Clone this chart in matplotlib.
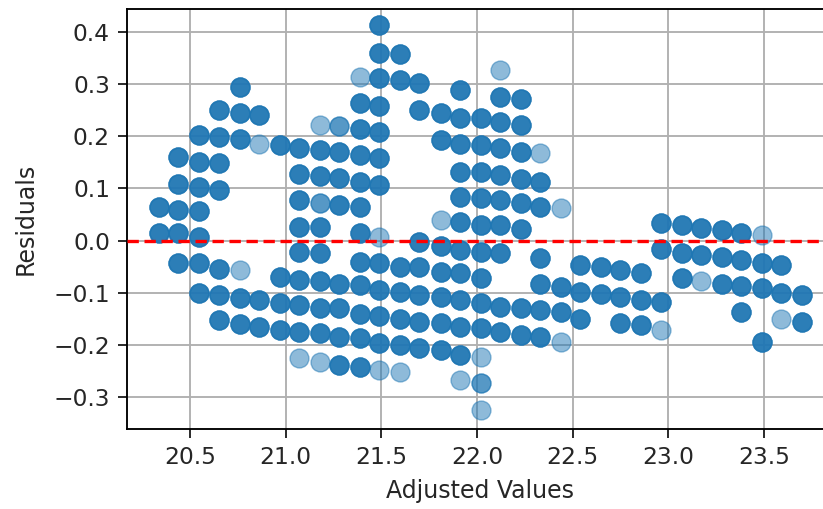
import numpy as np
import matplotlib
matplotlib.use("Agg")
import matplotlib.pyplot as plt

# Column positions (adjusted / fitted values)
adjusted = [20.34, 20.44, 20.55, 20.65, 20.76, 20.86, 20.97, 21.07, 21.18, 21.28,
            21.39, 21.49, 21.60, 21.70, 21.81, 21.91, 22.02, 22.12, 22.23, 22.33,
            22.44, 22.54, 22.65, 22.75, 22.86, 22.96, 23.07, 23.17, 23.28, 23.38,
            23.49, 23.59, 23.70]

# Residuals of densely overlapping points, one list per column
resid_dense = [
    [0.065, 0.014],
    [0.160, 0.108, 0.059, 0.014, -0.042],
    [0.202, 0.151, 0.103, 0.056, 0.007, -0.043, -0.100],
    [0.251, 0.199, 0.148, 0.097, -0.055, -0.104, -0.152],
    [0.295, 0.244, 0.194, -0.110, -0.159],
    [0.241, -0.113, -0.165],
    [0.183, -0.069, -0.120, -0.170],
    [0.177, 0.128, 0.078, 0.027, -0.021, -0.075, -0.123, -0.174],
    [0.174, 0.124, 0.027, -0.024, -0.078, -0.129, -0.177],
    [0.170, 0.121, 0.068, -0.082, -0.129, -0.184, -0.238],
    [0.263, 0.213, 0.164, 0.113, 0.064, 0.014, -0.040, -0.085, -0.140, -0.187, -0.241],
    [0.413, 0.359, 0.311, 0.258, 0.209, 0.158, 0.107, -0.043, -0.094, -0.145, -0.196],
    [0.357, 0.308, -0.050, -0.098, -0.149, -0.200],
    [0.301, 0.250, -0.003, -0.050, -0.104, -0.155, -0.206],
    [0.244, 0.193, -0.011, -0.059, -0.107, -0.158, -0.209],
    [0.288, 0.234, 0.186, 0.132, 0.084, 0.036, -0.018, -0.062, -0.113, -0.165, -0.219],
    [0.234, 0.183, 0.132, 0.081, 0.031, -0.021, -0.072, -0.120, -0.168],
    [0.276, 0.228, 0.177, 0.126, 0.078, 0.030, -0.024, -0.126, -0.174],
    [0.271, 0.221, 0.170, 0.119, 0.072, 0.022, -0.129, -0.180],
    [0.113, 0.065, -0.034, -0.082, -0.133, -0.184],
    [-0.089, -0.137],
    [-0.046, -0.098, -0.149],
    [-0.050, -0.102],
    [-0.057, -0.107, -0.158],
    [-0.061, -0.113, -0.161],
    [0.033, -0.016, -0.117],
    [0.030, -0.023, -0.072],
    [0.024, -0.027],
    [0.020, -0.032, -0.082],
    [0.014, -0.037, -0.087, -0.137],
    [-0.043, -0.091, -0.193],
    [-0.046, -0.100],
    [-0.104, -0.155],
]

# Single (faint) points
single_x = [20.76, 20.86, 21.07, 21.18, 21.18, 21.39, 21.49, 21.49, 21.60, 21.81,
            21.91, 22.02, 22.02, 22.12, 22.33, 22.44, 22.44, 22.96, 23.17, 23.49, 23.59]
single_y = [-0.056, 0.186, -0.225, 0.221, -0.232, 0.314, 0.008, -0.247, -0.251, 0.040,
            -0.267, -0.222, -0.324, 0.327, 0.167, 0.062, -0.193, -0.170, -0.078, 0.011, -0.149]

# Double-overlap points
double_x = [21.18, 21.28, 22.02]
double_y = [0.072, 0.220, -0.273]

dense_copies = 4

xs, ys = [], []
for xv, col in zip(adjusted, resid_dense):
    for yv in col:
        xs += [xv] * dense_copies
        ys += [yv] * dense_copies
for xv, yv in zip(double_x, double_y):
    xs += [xv] * 2
    ys += [yv] * 2
xs += single_x
ys += single_y

fig = plt.figure(figsize=(8.23, 5.09), dpi=100)
W, H = 823, 509
left_px, right_px, top_px, bottom_px = 126.7, 834.0, 9.3, 429.3
ax = fig.add_axes([left_px / W, (H - bottom_px) / H,
                   (right_px - left_px) / W, (bottom_px - top_px) / H])

ax.scatter(xs, ys, s=185, color="#1f77b4", alpha=0.5, linewidths=1.0, zorder=2)
ax.axhline(0, color="red", linestyle="--", linewidth=2.4, dashes=(3.4, 1.7), zorder=3)

ax.set_xlim(20.17, 23.866)
ax.set_ylim(-0.361, 0.443)
ax.set_xticks([20.5, 21.0, 21.5, 22.0, 22.5, 23.0, 23.5])
ax.set_yticks([-0.3, -0.2, -0.1, 0.0, 0.1, 0.2, 0.3, 0.4])
ax.grid(True, color="#b0b0b0", linewidth=1.35, zorder=0)
ax.set_axisbelow(True)
for sp in ax.spines.values():
    sp.set_linewidth(1.35)
ax.tick_params(labelsize=16.8, length=6.5, width=1.35, pad=5.5, colors="#222222",
               labelcolor="#262626")
ax.set_xlabel("Adjusted Values", fontsize=17, color="#262626", labelpad=7)
ax.set_ylabel("Residuals", fontsize=17, color="#262626", labelpad=11)

fig.savefig("out.png", dpi=100)
